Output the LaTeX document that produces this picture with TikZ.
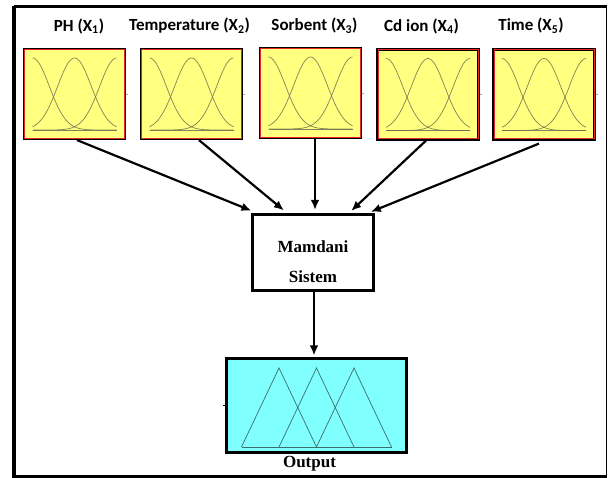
\documentclass[tikz,border=0pt]{standalone}
\usepackage{fontspec}
\setmainfont{Liberation Serif}
\newfontfamily\labelfont{Carlito}
\usetikzlibrary{arrows.meta}

\definecolor{mfyellow}{RGB}{255,255,128}
\definecolor{mfcyan}{RGB}{128,255,255}
\definecolor{bellline}{RGB}{110,110,80}
\definecolor{triline}{RGB}{60,110,110}
\definecolor{innerred}{RGB}{230,40,40}

\tikzset{
  inbox/.style={draw=black, line width=2.2pt, fill=mfyellow,
    minimum width=101pt, minimum height=90pt, inner sep=0pt},
  varlabel/.style={font=\labelfont\bfseries\fontsize{17}{19}\selectfont, inner sep=0pt},
  mambox/.style={draw=black, line width=3pt, fill=white,
    minimum width=121pt, minimum height=76pt, inner sep=0pt},
  mamtext/.style={font=\bfseries\fontsize{17}{30}\selectfont, align=center, inner sep=0pt},
  outbox/.style={draw=black, line width=3pt, fill=mfcyan,
    minimum width=180pt, minimum height=94pt, inner sep=0pt},
  outtext/.style={font=\bfseries\fontsize{17}{19}\selectfont, inner sep=0pt},
  flow/.style={draw=black, line width=2.2pt, -{Latex[length=10pt,width=8.5pt]}},
  tick/.style={draw=gray!70, line width=0.6pt},
  bell/.style={draw=bellline, line width=0.7pt, opacity=0.85},
  tri/.style={draw=triline, line width=0.7pt},
  pics/bells/.style={code={
    \draw[bell] (-42,36) -- (42,36);
    \draw[bell] plot[domain=-42:42, samples=70] (\x, {36-72*exp(-((\x+42)^2)/568)});
    \draw[bell] plot[domain=-42:42, samples=70] (\x, {36-72*exp(-((\x)^2)/568)});
    \draw[bell] plot[domain=-42:42, samples=70] (\x, {36-72*exp(-((\x-42)^2)/568)});
  }},
}

\begin{document}
\begin{tikzpicture}[x=1pt, y=-1pt]
  \useasboundingbox (0,0) rectangle (608,478);

  % outer frame
  \draw[line width=3pt] (14,6.5) -- (606.5,6.5);
  \draw[line width=3.5pt] (14,6.5) -- (14,476.5) -- (606.5,476.5);
  \draw[line width=1.8pt] (606.5,6.5) -- (606.5,476.5);

  % input variables
  \foreach \n/\cx/\cy/\lx/\txt in {
      1/74.5/94/79/{PH (X\textsubscript{1})},
      2/191.5/94/189.5/{Temperature (X\textsubscript{2})},
      3/310.5/93/314.5/{Sorbent (X\textsubscript{3})},
      4/428/94.5/421.5/{Cd ion (X\textsubscript{4})},
      5/544/94.5/531/{Time (X\textsubscript{5})}} {
    \node[varlabel] (lbl\n) at (\lx,26) {\txt};
    \node[inbox] (in\n) at (\cx,\cy) {};
    \draw[innerred, line width=1pt]
      ([shift={(1.6,1.6)}]in\n.north west) rectangle ([shift={(-1.6,-1.6)}]in\n.south east);
    \pic at (in\n.center) {bells};
    \draw[tick] (in\n.east) -- ++(2,0);
  }

  % inference block
  \node[mambox] (mam) at (313,252.5) {};
  \node[mamtext] (mamlbl) at ([yshift=-9pt]mam.center) {Mamdani\\Sistem};

  % output block
  \node[outbox] (out) at (316.5,405.5) {};
  \draw[tri] ([shift={(-75,41.5)}]out.center) -- ([shift={(75,41.5)}]out.center);
  \foreach \c in {-37.5,0,37.5} {
    \draw[tri] ([shift={(\c-37.5,41.5)}]out.center) -- ([shift={(\c,-37.5)}]out.center)
      -- ([shift={(\c+37.5,41.5)}]out.center);
  }
  \draw[black, line width=0.8pt] (out.west) -- ++(-2,0);
  \node[outtext] (outlbl) at (309.5,463.5) {Output};

  % connections
  \draw[flow, shorten >=6pt] ([xshift=2.5pt]in1.south) -- ([xshift=-56pt]mam.north);
  \draw[flow, shorten >=4pt] ([xshift=7.5pt]in2.south) -- ([xshift=-26pt]mam.north);
  \draw[flow, shorten >=3pt] ([xshift=4.5pt]in3.south) -- ([xshift=4.5pt]in3.south |- mam.north);
  \draw[flow, shorten >=3pt] ([xshift=-2pt]in4.south) -- ([xshift=36pt]mam.north);
  \draw[flow, shorten >=3pt] ([xshift=-5pt,yshift=-3pt]in5.south) -- ([xshift=55pt]mam.north);
  \draw[flow, shorten >=1.5pt] ([xshift=1pt]mam.south) -- ([xshift=1pt]mam.south |- out.north);
\end{tikzpicture}
\end{document}
